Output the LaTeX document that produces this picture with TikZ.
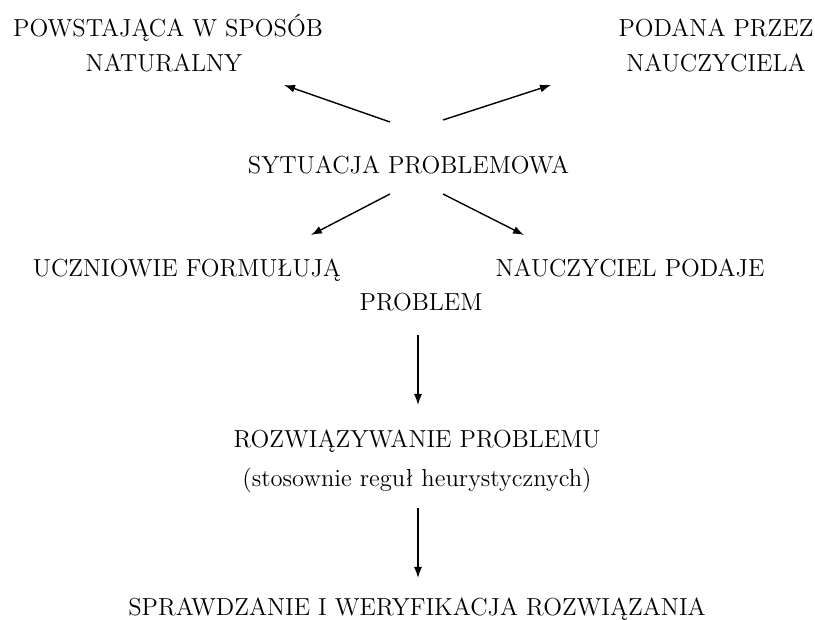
\documentclass[tikz,border=0pt]{standalone}
\usepackage{fontspec}
\usepackage{tikz}
\usetikzlibrary{arrows.meta}

\begin{document}
\begin{tikzpicture}[x=0.5pt, y=-0.5pt,
    lbl/.style={anchor=base, inner sep=0pt, font=\fontsize{12.3}{15}\selectfont},
    arr/.style={-{Latex[length=5.5pt,width=4pt]}, line width=0.7pt}]
  \useasboundingbox (0,0) rectangle (815,620);
  \node[lbl] (pow1) at (168,37) {POWSTAJĄCA W SPOSÓB};
  \node[lbl] (pow2) at (164,72) {NATURALNY};
  \node[lbl] (pod1) at (716,37) {PODANA PRZEZ};
  \node[lbl] (pod2) at (716,72) {NAUCZYCIELA};
  \node[lbl] (syt) at (408.5,173.5) {SYTUACJA PROBLEMOWA};
  \node[lbl] (ucz) at (187,277) {UCZNIOWIE FORMUŁUJĄ};
  \node[lbl] (nau) at (630,277) {NAUCZYCIEL PODAJE};
  \node[lbl] (prob) at (421,311) {PROBLEM};
  \node[lbl] (roz1) at (417,448) {ROZWIĄZYWANIE PROBLEMU};
  \node[lbl] (roz2) at (417,487) {(stosownie reguł heurystycznych)};
  \node[lbl] (spr) at (417,616) {SPRAWDZANIE I WERYFIKACJA ROZWIĄZANIA};
  \draw[arr] ([shift={(-18.5,-51.5)}]syt.base) -- ([shift={(120,13)}]pow2.base);
  \draw[arr] ([shift={(34.5,-53.5)}]syt.base) -- ([shift={(-165,13)}]pod2.base);
  \draw[arr] ([shift={(-18.5,20.5)}]syt.base) -- ([shift={(124,-42)}]ucz.base);
  \draw[arr] ([shift={(34.5,20.5)}]syt.base) -- ([shift={(-106,-42)}]nau.base);
  \draw[arr] ([shift={(-3,24)}]prob.base) -- ([shift={(1,-43)}]roz1.base);
  \draw[arr] ([shift={(1,21)}]roz2.base) -- ([shift={(1,-38)}]spr.base);
\end{tikzpicture}
\end{document}
